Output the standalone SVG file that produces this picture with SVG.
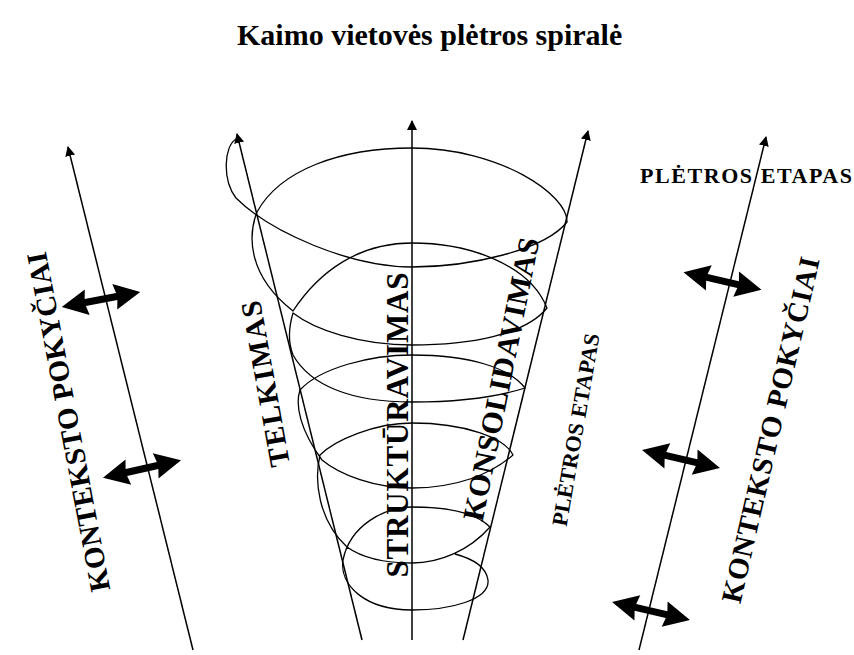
<svg xmlns="http://www.w3.org/2000/svg" xmlns:xlink="http://www.w3.org/1999/xlink" width="854" height="655" viewBox="0 0 854 655">
<style>
  .lbl { font-family: "Liberation Serif", "Times New Roman", serif; font-weight: bold; fill: #000; }
  .ax { stroke: #000; stroke-width: 1.5; fill: none; marker-end: url(#tip); }
  .sp { stroke: #000; stroke-width: 1.3; fill: none; stroke-linejoin: round; }
  .dbl { fill: #000; }
</style>
<defs>
  <marker id="tip" viewBox="0 0 10 10" refX="9" refY="5" markerWidth="10" markerHeight="11" markerUnits="userSpaceOnUse" orient="auto">
    <path d="M0,0 L10,5 L0,10 z" fill="#000"/>
  </marker>
  <path id="dblArrow" d="M-40,0 L-14,-13 L-16,-3.5 L16,-3.5 L14,-13 L40,0 L14,13 L16,3.5 L-16,3.5 L-14,13 Z"/>
</defs>
<rect width="854" height="655" fill="#fff"/>

<g id="title">
  <text class="lbl" x="237" y="45" font-size="30">Kaimo vietovės plėtros spiralė</text>
</g>

<g id="connectors">
  <line class="ax" x1="193" y1="650" x2="68" y2="147"/>
  <line class="ax" x1="362" y1="640" x2="237" y2="134"/>
  <line class="ax" x1="412" y1="640" x2="412" y2="121"/>
  <line class="ax" x1="463" y1="640" x2="588" y2="131"/>
  <line class="ax" x1="639" y1="650" x2="766" y2="137"/>
  <path id="spiral" class="sp" d="M236,139 C224,146 222,180 236,198 C270,232 350,267 412,267 C470,267 545,250 567,222 C568,195 500,148 412,148 C340,148 280,170 257,212 C248,235 247,275 293,311 C320,270 360,243 412,243 C470,243 530,265 547,308 C525,335 470,345 412,345 C360,345 315,330 293,313 C288,330 289,345 293,355 C310,385 350,402 412,402 C460,402 500,396 525,388 C510,368 470,355 412,355 C370,355 320,368 300,390 C295,405 300,430 322,460 C340,475 375,488 412,488 C455,488 490,475 513,455 C505,438 465,423 412,423 C375,423 335,440 320,455 C314,480 318,520 347,547 C365,560 390,563 412,563 C440,563 470,550 490,527 C475,512 445,507 412,507 C385,507 350,525 343,560 C339,585 365,610 412,610 C450,610 490,600 488,580 C486,565 470,558 455,554"/>
</g>

<g id="context-arrows" class="dbl">
  <use xlink:href="#dblArrow" transform="translate(101,299.5) rotate(-10.9)"/>
  <use xlink:href="#dblArrow" transform="translate(142,469) rotate(-12.7)"/>
  <use xlink:href="#dblArrow" transform="translate(722.5,281) rotate(12.8)"/>
  <use xlink:href="#dblArrow" transform="translate(681,459) rotate(13)"/>
  <use xlink:href="#dblArrow" transform="translate(651,611) rotate(13)"/>
</g>

<g id="konteksto-left">
  <text class="lbl" x="78" y="420" font-size="29" text-anchor="middle" textLength="345" transform="rotate(-100.8 78 420)">KONTEKSTO POKYČIAI</text>
</g>
<g id="konteksto-right">
  <text class="lbl" x="780" y="432" font-size="29" text-anchor="middle" textLength="354" transform="rotate(-77 780 432)">KONTEKSTO POKYČIAI</text>
</g>
<g id="telkimas">
  <text class="lbl" x="275" y="382" font-size="29" text-anchor="middle" textLength="168" transform="rotate(-100.3 275 382)">TELKIMAS</text>
</g>
<g id="strukturavimas">
  <text class="lbl" x="408" y="425" font-size="31" text-anchor="middle" textLength="305" transform="rotate(-90 408 425)">STRUKTŪRAVIMAS</text>
</g>
<g id="konsolidavimas">
  <text class="lbl" x="511" y="381" font-size="30" text-anchor="middle" textLength="288" transform="rotate(-78.6 511 381)">KONSOLIDAVIMAS</text>
</g>
<g id="pletros-etapas-vertical">
  <text class="lbl" x="583" y="431" font-size="22" text-anchor="middle" textLength="195" transform="rotate(-80.2 583 431)">PLĖTROS ETAPAS</text>
</g>
<g id="pletros-etapas-top">
  <text class="lbl" x="640" y="183" font-size="22" textLength="212">PLĖTROS ETAPAS</text>
</g>
</svg>
